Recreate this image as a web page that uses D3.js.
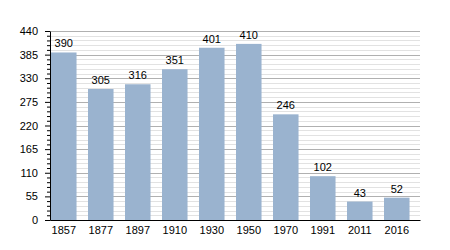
<!DOCTYPE html>
<html>
<head>
<meta charset="utf-8">
<script src="https://cdn.jsdelivr.net/npm/d3@7"></script>
<style>
  body { margin: 0; background: #fff; }
  svg text { font-family: "Liberation Sans", Arial, sans-serif; font-size: 11px; fill: #000; }
</style>
</head>
<body>
<div id="chart"></div>
<script>
// population by census year
var years = ["1857", "1877", "1897", "1910", "1930", "1950", "1970", "1991", "2011", "2016"];
var population = [390, 305, 316, 351, 401, 410, 246, 102, 43, 52];
var yTicks = [0, 55, 110, 165, 220, 275, 330, 385, 440];
var minorStep = 11;

var width = 450, height = 250;
var margin = {top: 31, right: 30, bottom: 30, left: 50};

var svg = d3.select("#chart")
	.append("svg")
	.attr("width", width)
	.attr("height", height);

var x = d3.scaleBand()
	.domain(years)
	.range([margin.left, width - margin.right]);

var y = d3.scaleLinear()
	.domain([0, 440])
	.range([height - margin.bottom, margin.top]);

var minorTicks = d3.range(0, 440 + 1, minorStep).filter(function(v){ return v % 55 != 0; });

// minor grid
svg.append("g")
	.selectAll("line")
	.data(minorTicks)
	.join("line")
	.attr("x1", margin.left)
	.attr("x2", width - margin.right)
	.attr("y1", function(d){ return Math.round(y(d)) + 0.5; })
	.attr("y2", function(d){ return Math.round(y(d)) + 0.5; })
	.style("stroke", "#e2e2e2");

// major grid
svg.append("g")
	.selectAll("line")
	.data(yTicks)
	.join("line")
	.attr("x1", margin.left)
	.attr("x2", width - margin.right)
	.attr("y1", function(d){ return Math.round(y(d)) + 0.5; })
	.attr("y2", function(d){ return Math.round(y(d)) + 0.5; })
	.style("stroke", "#b0b0b0");

// bars
var barW = x.bandwidth() * 0.69;
svg.append("g")
	.selectAll("rect")
	.data(years)
	.join("rect")
	.attr("x", function(d){ return x(d) + 1; })
	.attr("y", function(d, i){ return y(population[i]); })
	.attr("width", barW)
	.attr("height", function(d, i){ return y(0) - y(population[i]); })
	.style("fill", "#9ab3cf");

// value labels
svg.append("g")
	.selectAll("text")
	.data(years)
	.join("text")
	.attr("x", function(d){ return x(d) + 1 + barW / 2; })
	.attr("y", function(d, i){ return y(population[i]) - 5; })
	.attr("text-anchor", "middle")
	.text(function(d, i){ return population[i]; });

// y axis with major and minor ticks
svg.append("g")
	.attr("transform", "translate(" + margin.left + ",0)")
	.call(d3.axisLeft(y).tickValues(minorTicks).tickSize(3).tickFormat(""))
	.call(function(g){ g.select(".domain").remove(); });

svg.append("g")
	.attr("transform", "translate(" + margin.left + ",0)")
	.call(d3.axisLeft(y).tickValues(yTicks).tickSize(5).tickSizeOuter(0).tickPadding(7))
	.call(function(g){ g.selectAll("text").style("font-size", "11px"); });

// x axis
svg.append("g")
	.attr("transform", "translate(0," + (height - margin.bottom) + ")")
	.call(d3.axisBottom(x).tickSize(0).tickSizeOuter(0).tickPadding(6))
	.call(function(g){
		g.selectAll(".tick").attr("transform", function(d){ return "translate(" + (x(d) + 1 + barW / 2) + ",0)"; });
		g.selectAll("text").style("font-size", "11px");
	});
</script>
</body>
</html>
